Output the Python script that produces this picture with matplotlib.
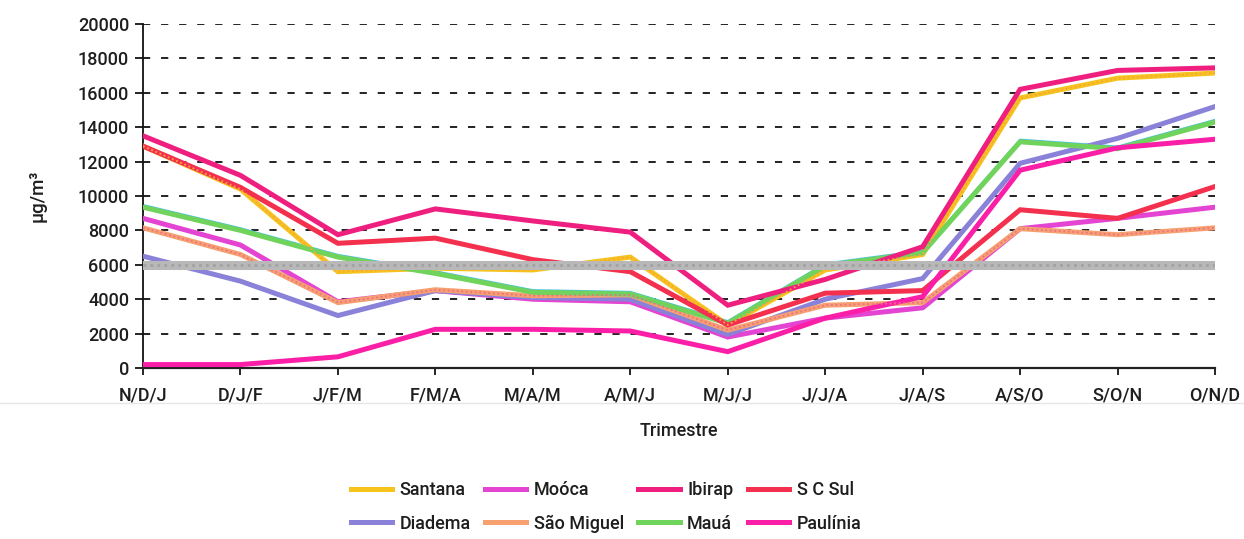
import matplotlib.pyplot as plt
from matplotlib.lines import Line2D

# quarterly (3-month moving) values per station, in ug/m3
quarters = ['N/D/J', 'D/J/F', 'J/F/M', 'F/M/A', 'M/A/M', 'A/M/J',
            'M/J/J', 'J/J/A', 'J/A/S', 'A/S/O', 'S/O/N', 'O/N/D']

santana = [12900, 10400, 5600, 5800, 5700, 6450, 2500, 5700, 6600, 15700, 16850, 17150]
mooca = [8700, 7150, 3850, 4500, 4000, 3850, 1800, 2900, 3500, 8100, 8700, 9350]
ibirap = [13500, 11200, 7750, 9250, 8550, 7900, 3650, 5150, 7050, 16200, 17300, 17450]
scsul = [12900, 10500, 7250, 7550, 6300, 5600, 2500, 4350, 4500, 9200, 8700, 10550]
diadema = [6500, 5050, 3050, 4500, 4100, 4000, 1950, 4000, 5200, 11900, 13350, 15200]
saomiguel = [8150, 6600, 3800, 4550, 4200, 4250, 2200, 3650, 3800, 8100, 7750, 8150]
maua = [9350, 8000, 6450, 5500, 4400, 4300, 2600, 5950, 6700, 13150, 12750, 14300]
paulinia = [200, 200, 650, 2250, 2250, 2150, 950, 2900, 4150, 11500, 12800, 13300]

limit = 6000
yticks = list(range(0, 20001, 2000))

plt.rcParams['font.family'] = ['Roboto', 'DejaVu Sans']
plt.rcParams['font.weight'] = 'medium'
txt = '#1e1e1e'
fs = 13

fig = plt.figure(figsize=(12.44, 5.39), dpi=100)
ax = fig.add_axes([143 / 1244, 1 - 368 / 539, (1215 - 143) / 1244, (368 - 24) / 539])

x = list(range(len(quarters)))
lw = 3.6

# name, values, colour, texture colour (None = plain)
series = [
    ('Santana', santana, '#f6c21c', '#f7a640'),
    ('Moóca', mooca, '#e344d2', None),
    ('Diadema', diadema, '#8a82d8', None),
    ('São Miguel', saomiguel, '#f6a070', '#ee6f8a'),
    ('Mauá', maua, '#6fd35c', None),
    ('S C Sul', scsul, '#f4304f', None),
    ('Ibirap', ibirap, '#ef1f80', None),
    ('Paulínia', paulinia, '#fb1fa8', None),
]

handles = {}
for name, vals, col, tex in series:
    if name == 'Mauá':
        # thin cyan rim on the green line
        ax.plot(x, [v + 130 for v in vals], color='#4cc3e0', lw=1.4, zorder=2)
    ax.plot(x, vals, color=col, lw=lw, solid_joinstyle='miter', zorder=3)
    if tex:
        ax.plot(x, vals, color=tex, lw=1.3, linestyle=(0, (1, 1.5)), zorder=3.1)
    handles[name] = Line2D([], [], color=col, lw=lw)

# reference level band
ax.axhline(limit, color='#b8b8b8', lw=6.5, zorder=4)
ax.axhline(limit, color='#a2a2a2', lw=2, linestyle=(0, (1, 1.5)), zorder=4.1)

ax.set_xlim(0, len(quarters) - 1)
ax.set_ylim(0, 20000)
ax.set_yticks(yticks)
ax.set_yticklabels([str(v) for v in yticks])
ax.set_xticks(x)
ax.set_xticklabels(quarters)

for v in yticks[1:]:
    ax.axhline(v, color='#111111', lw=1.3, linestyle=(0, (4, 6)), zorder=1)

for side in ['top', 'right']:
    ax.spines[side].set_visible(False)
ax.spines['left'].set_color('#111111')
ax.spines['left'].set_linewidth(1.3)
ax.spines['bottom'].set_color('#222222')
ax.spines['bottom'].set_linewidth(1.6)

ax.tick_params(axis='y', direction='out', length=6, width=1.2, pad=4,
               labelsize=fs, labelcolor=txt)
ax.tick_params(axis='x', direction='out', length=5, width=1.2, pad=8,
               labelsize=fs, labelcolor=txt)

fig.text(38 / 1244, 1 - 196 / 539, 'µg/m³', rotation=90, ha='center', va='center',
         fontsize=fs + 0.5, color=txt)
fig.text(679 / 1244, 1 - 431 / 539, 'Trimestre', ha='center', va='center',
         fontsize=fs, color=txt)

# faint rule under the axis labels
fig.add_artist(Line2D([0, 1], [1 - 403 / 539] * 2, color='#e6e6e6', lw=1))

# legend: 4 columns, 2 rows, filled row by row
order = ['Santana', 'Diadema', 'Moóca', 'São Miguel',
         'Ibirap', 'Mauá', 'S C Sul', 'Paulínia']
leg = fig.legend([handles[n] for n in order], order, ncol=4, loc='center',
                 bbox_to_anchor=(606 / 1244, 1 - 507 / 539), frameon=False,
                 fontsize=fs, handlelength=2.3, handletextpad=0.4,
                 columnspacing=0.8, borderpad=0, borderaxespad=0,
                 labelspacing=0.85)
for t in leg.get_texts():
    t.set_color(txt)

fig.savefig('out.png', dpi=100, facecolor='white')
